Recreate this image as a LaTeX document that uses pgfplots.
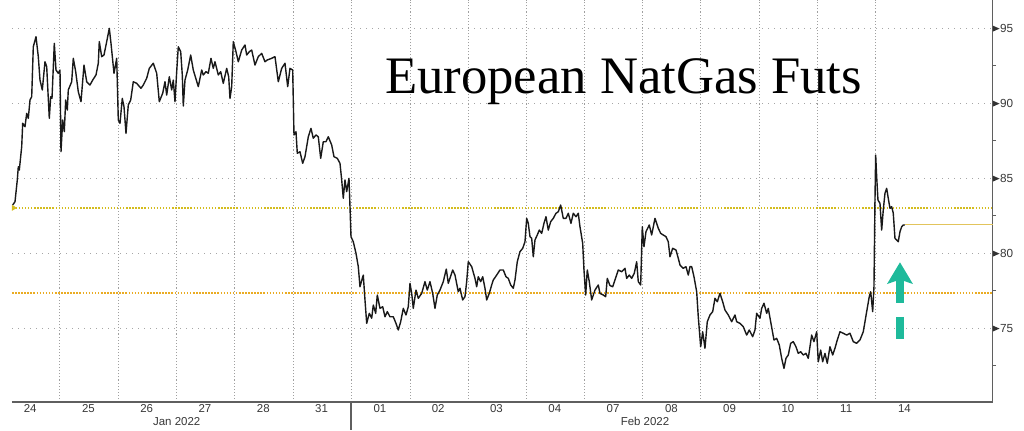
\documentclass[border=0pt]{standalone}
\usepackage{fontspec}
\setmainfont{Liberation Sans}
\newfontfamily\titlefont{Liberation Serif}
\usepackage{pgfplots}
\pgfplotsset{compat=1.18}
\definecolor{lvlyellow}{RGB}{212,188,30}
\definecolor{lvlorange}{RGB}{234,172,35}
\definecolor{lastline}{RGB}{226,196,92}
\definecolor{arrowc}{RGB}{30,186,155}
\definecolor{axc}{RGB}{95,95,95}
\definecolor{txt}{RGB}{55,55,55}
\begin{document}
\begin{tikzpicture}
\useasboundingbox (-9pt,-21pt) rectangle (759pt,301.5pt);
\begin{axis}[
  at={(0,0)}, anchor=south west,
  scale only axis, width=735.5pt, height=301.5pt,
  xmin=12, xmax=992.7, ymin=70.087, ymax=96.887,
  clip=false,
  axis x line*=bottom, axis y line*=right,
  axis line style={axc, line width=0.9pt},
  /pgf/number format/assume math mode=true,
  xtick={30.15,88.45,146.7,205.0,263.3,321.6,379.9,438.2,496.5,554.8,613.1,671.4,729.6,787.9,846.2,904.5},
  xticklabels={24,25,26,27,28,31,01,02,03,04,07,08,09,10,11,14},
  minor xtick={59.3,118.3,176.7,234.3,293.3,351,410,468.3,526,584.3,642.7,700.7,759.3,817.3,875.3},
  xtick style={draw=none},
  xminorgrids=true, xmajorgrids=false,
  minor x grid style={gray!75, line width=0.6pt, dash pattern=on 0.8pt off 1.5pt},
  extra x ticks={176.7,645},
  extra x tick labels={Jan 2022,Feb 2022},
  extra x tick style={xmajorgrids=false, xminorgrids=false, tick label style={yshift=-9.5pt}},
  xticklabel style={font=\fontsize{8.6}{10}\selectfont, text=txt, anchor=north, inner sep=1pt, yshift=-1pt},
  ytick={75,80,85,90,95},
  minor ytick={72.5,77.5,82.5,87.5,92.5},
  ymajorgrids=true, yminorgrids=false,
  major y grid style={gray!70, line width=0.6pt, dash pattern=on 0.9pt off 3.6pt},
  major tick length=0pt, minor tick length=2.5pt,
  tick align=outside,
  ytick style={axc, line width=0.8pt},
  yticklabel={\tikz[baseline=-0.6ex]\fill[black!80] (0,2.2pt)--(5pt,0)--(0,-2.2pt)--cycle;\hspace{0.4pt}\pgfmathprintnumber{\tick}},
  yticklabel style={font=\fontsize{8.8}{10}\selectfont, text=txt, anchor=west, inner sep=0pt, xshift=0pt},
]
% reference levels
\addplot[draw=lvlorange, line width=1.2pt, dash pattern=on 1.2pt off 1.1pt] coordinates {(12,77.37) (992.7,77.37)};
\addplot[draw=lvlyellow, line width=1.1pt, dash pattern=on 1.1pt off 1.2pt] coordinates {(12.6,83.03) (992.7,83.03)};
\addplot[only marks, mark=triangle*, mark size=2.2pt, mark options={rotate=-90, fill=lvlyellow, draw=lvlyellow}] coordinates {(13.5,83.03)};
\addplot[draw=lastline, line width=0.8pt] coordinates {(905,81.89) (992.7,81.89)};
% price series
\addplot[black!90, line width=1.05pt, line join=round] coordinates {
(12.7,83.22)(15,83.44)(17.3,84.89)(18.3,85.77)(19.3,85.55)(21.7,87.11)(22.7,88.67)(25,88.44)(26.7,89.33)(28.3,89.00)(30,90.22)(31.7,90.44)(33.3,93.77)(36,94.44)(38.3,93.11)(40,91.55)(42.3,90.89)(45,92.77)(46.7,92.44)(49.3,89.00)(50.7,90.44)(52,90.33)(54.3,94.00)(56,92.22)(58.3,92.00)(60,92.22)(61,86.77)(62.7,88.89)(64.3,88.11)(65.7,90.22)(67.3,89.55)(68.3,90.89)(71.7,91.44)(73.3,93.00)(75.7,92.11)(78.3,90.77)(81,90.11)(84,92.55)(86.7,91.44)(90,91.22)(92.7,91.55)(96,91.89)(98.3,92.67)(99.3,94.11)(101.7,93.11)(104,93.22)(106.7,94.11)(109.3,95.00)(111,94.00)(114,92.00)(116.7,93.00)(118.3,88.89)(120,88.67)(122.3,90.33)(124,89.77)(126,88.00)(128.3,89.89)(130.7,90.22)(133.3,91.44)(136.7,91.33)(141,91.00)(143.3,91.22)(146.7,91.67)(149.3,92.33)(153.3,92.67)(156.7,92.00)(159.3,90.11)(162.7,90.67)(165,91.44)(166.7,90.55)(169.3,91.77)(171.7,90.89)(173.3,91.55)(175,90.11)(176.7,92.11)(178.3,93.77)(180.7,93.44)(182.3,91.89)(183.3,89.82)(185,91.55)(187.7,92.22)(190.7,93.22)(193.3,92.22)(198.3,91.11)(201.7,92.22)(203.3,91.89)(206,92.11)(208.3,92.00)(211,93.00)(213.3,92.33)(215,92.77)(218.3,91.89)(220.7,92.11)(223.3,91.33)(226.7,92.33)(228.7,91.77)(230,90.33)(231.7,91.11)(233.3,94.11)(236,93.44)(238.3,92.77)(241.7,93.55)(245,93.89)(246.7,93.22)(249.3,93.44)(251.7,93.55)(255,92.55)(258.3,93.11)(261.7,93.33)(265,92.77)(267.3,92.89)(271.7,93.00)(275,93.11)(278.3,91.44)(281.7,92.33)(285,92.67)(287.7,91.11)(290,92.33)(292.7,92.22)(294,87.89)(296,88.11)(297.3,86.67)(300,86.77)(302.7,86.00)(305,86.44)(308.3,87.77)(311,88.33)(313.3,87.67)(316,87.89)(318.3,87.77)(320.7,86.33)(323.3,87.44)(326,87.44)(328.3,87.77)(331.7,87.22)(334,86.44)(337.3,86.33)(340,86.00)(341.7,84.89)(343.3,83.67)(345,84.89)(346.7,84.11)(349,85.00)(350,83.11)(351,81.11)(353.3,80.77)(356,80.00)(358.3,79.11)(360,77.77)(362.3,78.33)(363.3,78.55)(365,76.89)(366.7,75.33)(369.3,76.00)(371.7,75.67)(373.3,76.55)(375.7,76.00)(377.3,77.22)(380,76.33)(382.7,76.44)(385,75.77)(387.3,76.11)(390,75.77)(393.3,75.77)(396,75.33)(398.3,74.89)(400.7,75.44)(403.3,76.33)(406,75.89)(408.3,76.44)(410,78.00)(411.7,77.33)(413.3,76.33)(416,77.55)(418.3,77.00)(421.7,77.33)(425,78.11)(427.3,77.55)(430,78.11)(432.7,77.33)(435,76.33)(437.3,77.22)(440,77.55)(443.3,78.11)(446.3,78.95)(448.3,78.00)(452.7,78.89)(455,78.55)(458.3,77.44)(460,77.67)(462.7,76.89)(465,77.11)(466.7,78.11)(468.3,79.44)(471.7,79.11)(475,78.33)(476.7,77.77)(478.3,78.44)(480.7,78.11)(482.7,78.44)(485,77.67)(486.7,76.89)(489.3,77.33)(491.7,77.89)(493.3,78.22)(496.7,78.55)(500,78.89)(503.3,78.89)(506,78.44)(508.3,78.33)(510.7,77.89)(513.3,77.67)(515,78.22)(517.3,79.44)(520,80.11)(522.7,80.33)(525,80.77)(526.7,82.33)(528.3,82.00)(530,81.11)(531.7,81.00)(533.3,79.77)(535,80.89)(537.3,81.22)(539.3,81.55)(541.7,81.33)(544,82.00)(546,82.44)(548.3,81.55)(550.7,82.11)(553.3,82.33)(556,82.67)(558.3,82.77)(560.7,83.22)(563.3,82.33)(566,82.33)(568.3,82.67)(571,82.00)(573.3,82.67)(576,82.44)(578.3,82.67)(580,81.77)(582.7,80.67)(584,78.89)(585.7,77.22)(587.3,78.89)(589.3,78.11)(591.7,76.89)(595,77.55)(598.3,77.89)(600,77.33)(603.3,77.22)(605.7,77.11)(607.3,78.33)(610,77.85)(612.7,77.77)(615,78.22)(618.3,78.89)(621.7,78.77)(625,79.00)(626.7,78.33)(629.3,78.55)(631.7,78.33)(634.3,78.67)(636.7,79.44)(638.3,78.11)(640.7,77.89)(642.3,81.77)(644,80.44)(646,81.44)(649.3,81.89)(651.7,81.22)(655,82.33)(658.3,81.67)(660.7,81.33)(663.3,81.22)(666,81.11)(668.3,80.77)(670,79.77)(672.7,80.33)(676,80.22)(678.3,79.67)(680,79.22)(683.3,79.00)(686,79.11)(688.3,78.55)(690,79.11)(691.7,79.11)(694,78.44)(696.7,77.44)(698.3,75.77)(700.7,73.77)(702.7,74.77)(705,73.67)(707.3,75.44)(710,75.89)(712.7,76.11)(715,77.00)(717.3,76.77)(720,77.33)(722.7,76.77)(725,76.22)(728.3,75.89)(731.7,75.44)(735,75.89)(736.7,75.44)(740,75.33)(743.3,75.11)(746.7,74.55)(749.3,74.89)(752.7,74.44)(755,74.89)(756.7,76.00)(760,75.67)(761.7,76.33)(764,76.67)(766.7,76.00)(768.3,76.33)(770.7,75.44)(774,74.22)(776.7,74.33)(779.3,73.89)(781.7,73.00)(784,72.33)(786,73.00)(788.3,73.22)(790.7,74.00)(793.3,74.11)(796,73.77)(798.3,73.33)(800.7,73.44)(803.3,73.22)(806,73.33)(808.3,73.00)(811.7,74.55)(814,74.11)(816.7,74.77)(818.3,72.77)(820.7,73.55)(822.7,72.77)(825,73.33)(827.3,72.67)(830,73.77)(832.7,73.22)(835,73.67)(837.3,74.22)(840,74.77)(843.3,74.67)(846.7,74.55)(850,74.67)(853.3,74.11)(856.7,74.00)(860,74.22)(863.3,74.77)(866.7,76.11)(869.3,77.11)(870.7,77.44)(872.7,76.11)(874,77.77)(875,83.55)(875.7,86.55)(876.7,85.11)(878,83.55)(880,83.33)(881.7,81.55)(883.3,82.89)(885,84.00)(886.7,84.33)(888.3,83.67)(890,83.00)(891.7,83.11)(893.3,82.67)(895,81.00)(896.7,80.89)(898.3,80.77)(900,81.44)(901.7,81.77)(903.3,81.89)(905,81.89)
};
% month separator
\draw[axc, line width=0.9pt] (axis cs:351,70.087) -- ++(0pt,-21pt);
% title
\node[anchor=base west, inner sep=0pt, font=\titlefont\fontsize{39.5}{41}\selectfont] at (axis cs:385,90.67) {European NatGas Futs};
% arrow annotation
\fill[arrowc] (axis cs:887,77.95) -- (axis cs:900,79.4) -- (axis cs:913,77.95) -- (axis cs:900,78.25) -- cycle;
\draw[arrowc, line width=6.2pt] (axis cs:900,78.3) -- (axis cs:900,76.67);
\draw[arrowc, line width=6.2pt] (axis cs:900,75.77) -- (axis cs:900,74.27);
\end{axis}
\end{tikzpicture}
\end{document}
